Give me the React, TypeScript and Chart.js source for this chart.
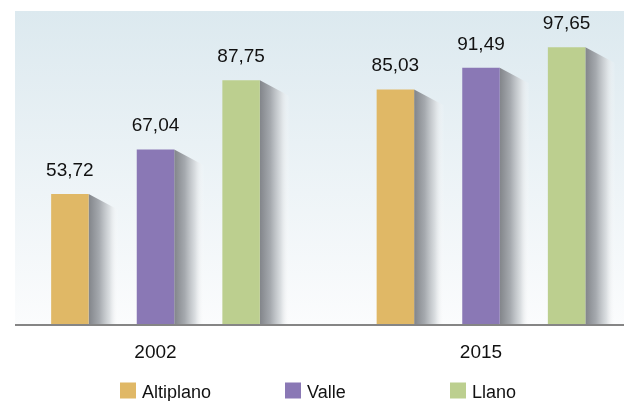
import React, { useEffect, useRef } from "react";
import { Chart, registerables } from "chart.js";

Chart.register(...registerables);

const categories = ["2002", "2015"];
const seriesNames = ["Altiplano", "Valle", "Llano"];
const altiplano = [53.72, 85.03];
const valle = [67.04, 91.49];
const llano = [87.75, 97.65];
const seriesColors = ["#e0b866", "#8a78b5", "#bccf8f"];

const FONT = "'Liberation Sans', Arial, Helvetica, sans-serif";
const OFFSET = 20; // canvas shifted left so that the plot can bleed past the picture's edges
const CANVAS_W = 680;
const CANVAS_H = 401;

const fmt = (v: number) => v.toFixed(2).replace(".", ",");

const decorPlugin = {
  id: "decor",
  beforeDraw(chart: any) {
    const { ctx, chartArea } = chart;
    const left = 15 + OFFSET;
    const top = 11;
    const g = ctx.createLinearGradient(0, top, 0, chartArea.bottom);
    g.addColorStop(0, "#dce9ef");
    g.addColorStop(1, "#fbfcfd");
    ctx.save();
    ctx.fillStyle = g;
    ctx.fillRect(left, top, chart.width - left, chartArea.bottom - top);
    ctx.restore();
  },
  beforeDatasetsDraw(chart: any) {
    const { ctx, chartArea } = chart;
    ctx.save();
    chart.data.datasets.forEach((_: any, di: number) => {
      const meta = chart.getDatasetMeta(di);
      meta.data.forEach((bar: any) => {
        const rx = bar.x + bar.width / 2;
        const sw = 30;
        const bottom = chartArea.bottom;
        const g = ctx.createLinearGradient(rx, 0, rx + sw, 0);
        g.addColorStop(0, "rgba(130,133,138,1)");
        g.addColorStop(0.35, "rgba(165,169,174,1)");
        g.addColorStop(0.7, "rgba(215,219,222,0.9)");
        g.addColorStop(1, "rgba(255,255,255,0)");
        ctx.fillStyle = g;
        ctx.beginPath();
        ctx.moveTo(rx, bar.y);
        ctx.lineTo(rx + sw, bar.y + 16);
        ctx.lineTo(rx + sw, bottom);
        ctx.lineTo(rx, bottom);
        ctx.closePath();
        ctx.fill();
      });
    });
    ctx.restore();
  },
  afterDatasetsDraw(chart: any) {
    const { ctx, chartArea } = chart;
    ctx.save();
    // baseline
    ctx.strokeStyle = "#858585";
    ctx.lineWidth = 2;
    ctx.beginPath();
    ctx.moveTo(15 + OFFSET, chartArea.bottom);
    ctx.lineTo(chart.width, chartArea.bottom);
    ctx.stroke();
    // value labels
    ctx.fillStyle = "#111";
    ctx.font = `19px ${FONT}`;
    ctx.textAlign = "center";
    ctx.textBaseline = "alphabetic";
    chart.data.datasets.forEach((ds: any, di: number) => {
      const meta = chart.getDatasetMeta(di);
      meta.data.forEach((bar: any, i: number) => {
        ctx.fillText(fmt(ds.data[i]), bar.x, bar.y - 18);
      });
    });
    ctx.restore();
  },
  afterDraw(chart: any) {
    const { ctx } = chart;
    ctx.save();
    ctx.font = `18px ${FONT}`;
    ctx.textBaseline = "alphabetic";
    ctx.textAlign = "left";
    const startX = 120 + OFFSET;
    const step = 165;
    chart.data.datasets.forEach((ds: any, di: number) => {
      const x = startX + di * step;
      ctx.fillStyle = ds.backgroundColor;
      ctx.fillRect(x, 382.5, 16, 16);
      ctx.fillStyle = "#111";
      ctx.fillText(ds.label, x + 22, 398);
    });
    ctx.restore();
  },
};

export default function App() {
  const ref = useRef<HTMLCanvasElement>(null);
  useEffect(() => {
    if (!ref.current) return;
    const chart = new Chart(ref.current, {
      type: "bar",
      data: {
        labels: categories,
        datasets: [altiplano, valle, llano].map((d, i) => ({
          label: seriesNames[i],
          data: d,
          backgroundColor: seriesColors[i],
          borderWidth: 0,
          barPercentage: 0.438,
          categoryPercentage: 0.789,
        })),
      },
      options: {
        animation: false,
        responsive: false,
        devicePixelRatio: 1,
        layout: { padding: { left: 12.75, right: 16.25, top: 11, bottom: 21.2 } },
        plugins: { legend: { display: false }, tooltip: { enabled: false } },
        scales: {
          x: {
            grid: { display: false, drawTicks: false },
            border: { display: false },
            ticks: { color: "#111", font: { family: FONT, size: 19 }, padding: 16 },
          },
          y: { display: false, min: 14.5, max: 108.5 },
        },
      },
      plugins: [decorPlugin],
    });
    return () => chart.destroy();
  }, []);
  return (
    <div style={{ position: "fixed", left: 0, top: 0, width: 624, height: 401, overflow: "hidden", background: "#fff" }}>
      <canvas
        ref={ref}
        width={CANVAS_W}
        height={CANVAS_H}
        style={{ position: "absolute", left: -OFFSET, top: 0, width: CANVAS_W, height: CANVAS_H }}
      />
    </div>
  );
}
